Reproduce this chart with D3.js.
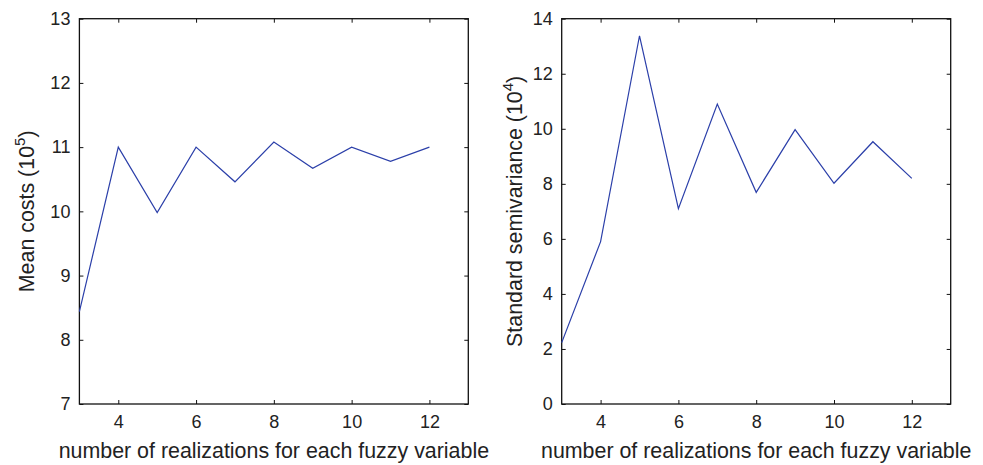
<!DOCTYPE html>
<html>
<head>
<meta charset="utf-8">
<script src="https://cdn.jsdelivr.net/npm/d3@7"></script>
<style>
  body { margin: 0; background: #fff; }
  svg { display: block; }
  text { font-family: "Liberation Sans", Arial, Helvetica, sans-serif; fill: #222; }
</style>
</head>
<body>
<div id="chart"></div>
<script>
// number of realizations (x)
const realizations = [3, 4, 5, 6, 7, 8, 9, 10, 11, 12];
// left panel: mean costs (10^5)
const meanCosts = [8.44, 11.0, 9.98, 11.0, 10.46, 11.08, 10.67, 11.0, 10.78, 11.0];
// right panel: standard semivariance (10^4)
const semivariance = [2.23, 5.9, 13.38, 7.1, 10.9, 7.69, 9.97, 8.02, 9.53, 8.2];

const xTicks = [4, 6, 8, 10, 12];
const leftYTicks = [7, 8, 9, 10, 11, 12, 13];
const rightYTicks = [0, 2, 4, 6, 8, 10, 12, 14];
const xLabel = "number of realizations for each fuzzy variable";

const width = 983, height = 465;
const svg = d3.select("#chart").append("svg")
    .attr("width", width)
    .attr("height", height);

const panels = [
    { left: 79.4, right: 468.3, values: meanCosts, yDomain: [7, 13], yTicks: leftYTicks,
      label: "Mean costs (10", exp: "5", labelX: 34 },
    { left: 561.7, right: 950.7, values: semivariance, yDomain: [0, 14], yTicks: rightYTicks,
      label: "Standard semivariance (10", exp: "4", labelX: 522 }
];
const plotTop = 18.7, plotBottom = 404;
const fmt = d3.format("d");

panels.forEach(p => {
    const x = d3.scaleLinear().domain([3, 13]).range([p.left, p.right]);
    const y = d3.scaleLinear().domain(p.yDomain).range([plotBottom, plotTop]);
    const g = svg.append("g");

    // inward ticks on all four sides (matlab box)
    const tickLen = 4;
    g.append("g")
        .attr("transform", `translate(0,${plotBottom})`)
        .call(d3.axisBottom(x).tickValues(xTicks).tickFormat(fmt).tickSizeInner(-tickLen).tickSizeOuter(0).tickPadding(11))
        .call(a => a.select(".domain").remove());
    g.append("g")
        .attr("transform", `translate(0,${plotTop})`)
        .call(d3.axisTop(x).tickValues(xTicks).tickSizeInner(-tickLen).tickSizeOuter(0).tickFormat(""))
        .call(a => a.select(".domain").remove());
    g.append("g")
        .attr("transform", `translate(${p.left},0)`)
        .call(d3.axisLeft(y).tickValues(p.yTicks).tickFormat(fmt).tickSizeInner(-tickLen).tickSizeOuter(0).tickPadding(9))
        .call(a => a.select(".domain").remove());
    g.append("g")
        .attr("transform", `translate(${p.right},0)`)
        .call(d3.axisRight(y).tickValues(p.yTicks).tickSizeInner(-tickLen).tickSizeOuter(0).tickFormat(""))
        .call(a => a.select(".domain").remove());

    g.selectAll("g").attr("font-size", 18).attr("font-family", "Liberation Sans, Arial, sans-serif");
    g.selectAll(".tick line").attr("stroke", "#111").attr("stroke-width", 1);
    g.selectAll(".tick text").attr("fill", "#222");

    g.append("rect")
        .attr("x", p.left).attr("y", plotTop)
        .attr("width", p.right - p.left).attr("height", plotBottom - plotTop)
        .attr("fill", "none").attr("stroke", "#111").attr("stroke-width", 1.3);

    const line = d3.line()
        .x((d, i) => x(realizations[i]))
        .y(d => y(d));
    g.append("path")
        .datum(p.values)
        .attr("d", line)
        .attr("fill", "none")
        .attr("stroke", "#2b3fa9")
        .attr("stroke-width", 1.2);

    // x label
    g.append("text")
        .attr("x", (p.left + p.right) / 2)
        .attr("y", 458)
        .attr("text-anchor", "middle")
        .style("font-size", "21.4px")
        .text(xLabel);

    // y label with superscript exponent
    const yl = g.append("text")
        .attr("transform", `translate(${p.labelX},${(plotTop + plotBottom) / 2}) rotate(-90)`)
        .attr("text-anchor", "middle")
        .style("font-size", "21.4px");
    yl.append("tspan").text(p.label);
    yl.append("tspan").attr("dy", -9).style("font-size", "15px").text(p.exp);
    yl.append("tspan").attr("dy", 9).text(")");
});
</script>
</body>
</html>
